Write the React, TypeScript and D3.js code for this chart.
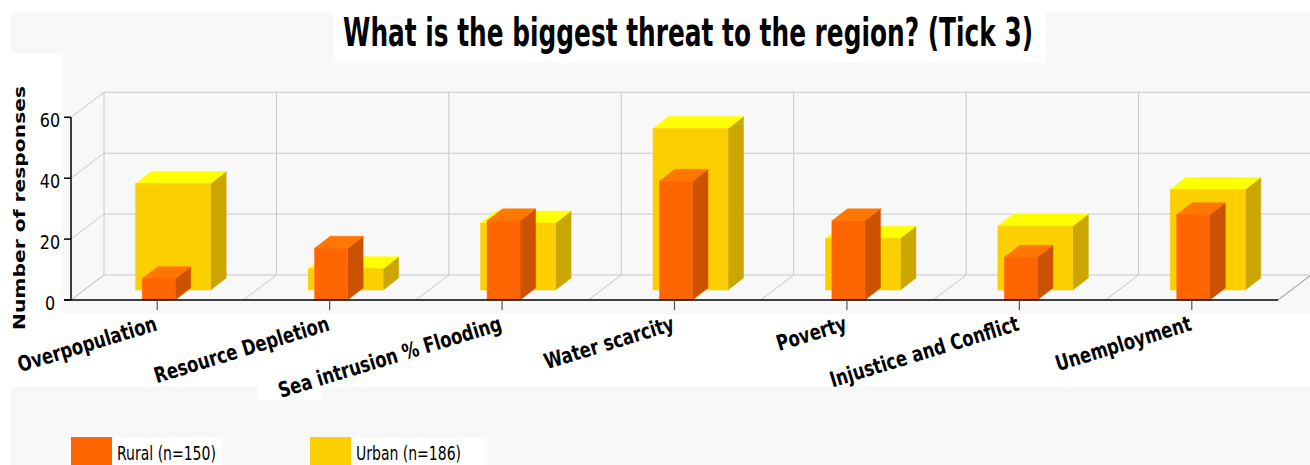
import React from 'react';
import * as d3 from 'd3';

const title = 'What is the biggest threat to the region? (Tick 3)';
const yTitle = 'Number of responses';
const categories = [
  'Overpopulation',
  'Resource Depletion',
  'Sea intrusion % Flooding',
  'Water scarcity',
  'Poverty',
  'Injustice and Conflict',
  'Unemployment',
];
const rural = [7, 17, 26, 39, 26, 14, 28];
const urban = [35, 7, 22, 53, 17, 21, 33];
const yTicks = [0, 20, 40, 60];
const seriesNames = ['Rural (n=150)', 'Urban (n=186)'];

const W = 1310;
const H = 465;
const DX = 33; // wall depth
const DY = -25;
const BDX = 15.5; // bar depth
const BDY = -12;

const colors = {
  rural: { front: '#FF6600', top: '#FF7700', side: '#CC5200' },
  urban: { front: '#FCCF00', top: '#FFFF00', side: '#CCA600' },
};

function Bar3D({ x0, w, yBase, yTop, c }: { x0: number; w: number; yBase: number; yTop: number; c: { front: string; top: string; side: string } }) {
  const top = `${x0},${yTop} ${x0 + BDX},${yTop + BDY} ${x0 + w + BDX},${yTop + BDY} ${x0 + w},${yTop}`;
  const side = `${x0 + w},${yTop} ${x0 + w + BDX},${yTop + BDY} ${x0 + w + BDX},${yBase + BDY} ${x0 + w},${yBase}`;
  return (
    <g>
      <polygon points={side} fill={c.side} stroke={c.side} strokeWidth={0.5} />
      <polygon points={top} fill={c.top} stroke={c.top} strokeWidth={0.5} />
      <rect x={x0} y={yTop} width={w} height={yBase - yTop} fill={c.front} stroke={c.front} strokeWidth={0.5} />
    </g>
  );
}

export default function App() {
  const x = d3.scaleBand<string>().domain(categories).range([71, 1278]).padding(0);
  const y = d3.scaleLinear().domain([0, 60]).range([300, 117.3]);
  const bw = x.bandwidth();
  const grid = '#c8c8c8';
  const font = 'DejaVu Sans, Verdana, sans-serif';

  return (
    <svg width={W} height={H} style={{ position: 'absolute', left: 0, top: 0, display: 'block' }} xmlns="http://www.w3.org/2000/svg">
      <rect x={0} y={0} width={W} height={H} fill="#ffffff" />
      <rect x={11} y={12} width={W - 11} height={H - 12} fill="#f8f8f8" />
      <rect x={333} y={0} width={713} height={63} fill="#ffffff" />
      <rect x={0} y={53} width={62} height={334} fill="#ffffff" />
      <rect x={0} y={314} width={W} height={73} fill="#ffffff" />
      <rect x={258} y={386} width={64} height={14} fill="#ffffff" />

      {/* title */}
      <text
        transform="translate(688,46) scale(1,1.5)"
        textAnchor="middle"
        fontFamily={font}
        fontWeight="bold"
        fontSize={26}
        textLength={690}
        lengthAdjust="spacingAndGlyphs"
        fill="#000"
      >
        {title}
      </text>

      {/* back wall horizontal grid + left wall diagonals */}
      {yTicks.map((t) => (
        <g key={'g' + t}>
          <line x1={71} y1={y(t)} x2={71 + DX} y2={y(t) + DY} stroke={grid} />
          <line x1={71 + DX} y1={y(t) + DY} x2={1278 + DX} y2={y(t) + DY} stroke={grid} />
        </g>
      ))}
      {/* back wall verticals + floor diagonals */}
      {[...categories.map((c) => x(c) as number), 1278].map((bx, i) => (
        <g key={'v' + i}>
          <line x1={bx + DX} y1={y(60) + DY} x2={bx + DX} y2={y(0) + DY} stroke={grid} />
          <line x1={bx} y1={y(0)} x2={bx + DX} y2={y(0) + DY} stroke={grid} />
        </g>
      ))}

      {/* urban (back row) */}
      {categories.map((c, i) => {
        const cx = (x(c) as number) + bw / 2;
        return (
          <Bar3D key={'u' + i} x0={cx - 21.5} w={75} yBase={y(0) - 10} yTop={y(urban[i]) - 10} c={colors.urban} />
        );
      })}
      {/* rural (front row) */}
      {categories.map((c, i) => {
        const cx = (x(c) as number) + bw / 2;
        return <Bar3D key={'r' + i} x0={cx - 15} w={33} yBase={y(0)} yTop={y(rural[i])} c={colors.rural} />;
      })}

      {/* axes */}
      <line x1={71} y1={y(60)} x2={71} y2={y(0)} stroke="#000" strokeWidth={1.5} />
      <line x1={64} y1={y(0)} x2={1278} y2={y(0)} stroke="#000" strokeWidth={1.5} />
      <line x1={1278} y1={y(0)} x2={1278 + DX} y2={y(0) + DY} stroke="#999" />
      {yTicks.map((t) => (
        <g key={'yt' + t}>
          <line x1={64} y1={y(t)} x2={71} y2={y(t)} stroke="#000" strokeWidth={1.5} />
          <text
            transform={`translate(50,${y(t) + 9.5}) scale(1,1.2)`}
            textAnchor="middle"
            fontFamily={font}
            fontSize={16}
            fill="#000"
          >
            {t}
          </text>
        </g>
      ))}
      <text
        transform="translate(25,208) rotate(-90)"
        textAnchor="middle"
        fontFamily={font}
        fontWeight="bold"
        fontSize={16}
        textLength={244}
        lengthAdjust="spacingAndGlyphs"
        fill="#000"
      >
        {yTitle}
      </text>

      {/* x ticks and labels */}
      {categories.map((c, i) => {
        const cx = (x(c) as number) + bw / 2;
        return (
          <g key={'xl' + i}>
            <line x1={cx} y1={y(0)} x2={cx} y2={y(0) + 10} stroke="#555" strokeWidth={1.2} />
            <text
              transform={`translate(${cx + 1},330) rotate(-17) scale(1,1.3)`}
              textAnchor="end"
              fontFamily={font}
              fontWeight="bold"
              fontSize={16.5}
              fill="#000"
            >
              {c}
            </text>
          </g>
        );
      })}

      {/* legend */}
      {seriesNames.map((s, i) => {
        const sx = i === 0 ? 71 : 310;
        const bgW = i === 0 ? 110 : 136;
        const col = i === 0 ? colors.rural.front : colors.urban.front;
        return (
          <g key={'lg' + i}>
            <rect x={sx} y={437} width={41} height={30} fill={col} />
            <rect x={sx + 41} y={437} width={bgW} height={30} fill="#ffffff" />
            <text
              transform={`translate(${sx + 46},460) scale(1,1.35)`}
              fontFamily={font}
              fontSize={14}
              fill="#000"
            >
              {s}
            </text>
          </g>
        );
      })}
    </svg>
  );
}
